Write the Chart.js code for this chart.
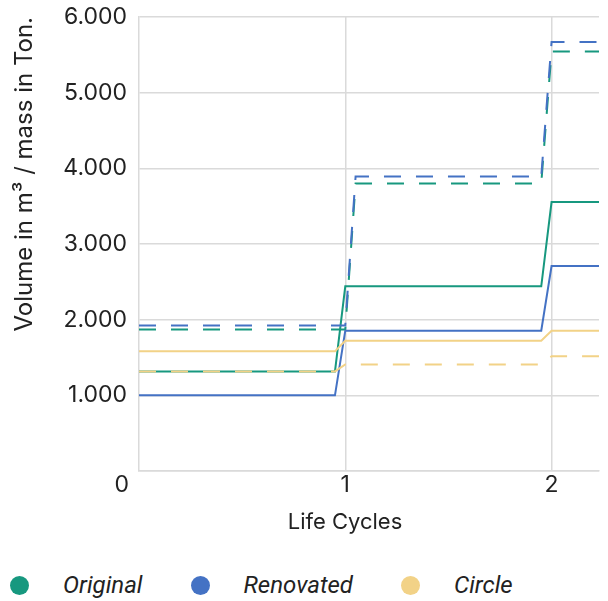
<!DOCTYPE html>
<html>
<head>
<meta charset="utf-8">
<script src="https://cdn.jsdelivr.net/npm/chart.js@4.4.1/dist/chart.umd.min.js"></script>
<style>
  body { margin: 0; background: #fff; }
  #wrap { position: relative; width: 608px; height: 550px; }
  #legend { display: flex; align-items: center; height: 26px; margin-top: 22px; font: italic 24px Roboto, sans-serif; color: #222; }
  #legend .dot { width: 19px; height: 19px; border-radius: 50%; }
  #legend .txt { margin-left: 34px; margin-right: 48px; }
</style>
</head>
<body>
<div id="wrap"><canvas id="chart"></canvas></div>
<div id="legend"></div>
<script>
// x positions of the step corners (life cycles)
const xSolid  = [0, 0.95, 1, 1.95, 2, 2.23];
const xDashed = [0, 1, 1.05, 1.95, 2, 2.23];
const xTicks = [1, 2];

// volume in m3 (solid) and mass in ton (dashed)
const originalSolid   = [1316, 1316, 2440, 2440, 3555, 3555];
const originalDashed  = [1871, 1871, 3800, 3800, 5545, 5545];
const renovatedSolid  = [1000, 1000, 1854, 1854, 2709, 2709];
const renovatedDashed = [1924, 1924, 3893, 3893, 5669, 5669];
const circleSolid     = [1581, 1581, 1722, 1722, 1854, 1854];
const circleDashed    = [1316, 1316, 1409, 1409, 1515, 1515];

const seriesNames  = ['Original', 'Renovated', 'Circle'];
const seriesColors = ['#17987f', '#4472c4', '#f2d287'];

const FONT = 'Inter';
const textColor = '#222';
const gridColor = '#dadada';

function pts(xs, ys) {
  return xs.map((x, i) => ({ x: x, y: ys[i] }));
}

function fmt(v) {
  if (v === 0) return '';
  return String(v).replace(/\B(?=(\d{3})+(?!\d))/g, '.');
}

function line(name, color, xs, ys, dashed) {
  return {
    label: name + (dashed ? ' (Ton.)' : ' (m³)'),
    data: pts(xs, ys),
    borderColor: color,
    backgroundColor: color,
    borderWidth: 2,
    borderDash: dashed ? [17, 15] : [],
    pointRadius: 0,
    tension: 0
  };
}

// first dataset ends up on top
const datasets = [
  line('Circle', seriesColors[2], xSolid, circleDashed, true),
  line('Circle', seriesColors[2], xSolid, circleSolid, false),
  line('Renovated', seriesColors[1], xDashed, renovatedDashed, true),
  line('Renovated', seriesColors[1], xSolid, renovatedSolid, false),
  line('Original', seriesColors[0], xDashed, originalDashed, true),
  line('Original', seriesColors[0], xSolid, originalSolid, false)
];

// the lone "0" sits below the corner
const zeroLabel = {
  id: 'zeroLabel',
  afterDraw(chart) {
    const ctx = chart.ctx;
    ctx.save();
    ctx.font = '23px ' + FONT;
    ctx.fillStyle = textColor;
    ctx.textAlign = 'right';
    ctx.textBaseline = 'middle';
    ctx.fillText('0', chart.scales.y.right - 10, chart.scales.x.top + 14);
    ctx.restore();
  }
};

const ctx = document.getElementById('chart');
new Chart(ctx, {
  type: 'line',
  data: { datasets: datasets },
  options: {
    responsive: true,
    maintainAspectRatio: false,
    animation: false,
    layout: { padding: { top: 17, right: 9, left: 0, bottom: 0 } },
    scales: {
      x: {
        type: 'linear',
        min: 0,
        max: 2.23,
        afterBuildTicks: s => { s.ticks = xTicks.map(v => ({ value: v })); },
        afterFit: s => { s.height = 79; },
        grid: { color: gridColor, lineWidth: 1.5, drawTicks: false },
        border: { color: gridColor, width: 1.5 },
        ticks: { padding: 0, color: textColor, font: { family: FONT, size: 23 } },
        // trailing spaces pull the title towards the 0–2 range
        title: { display: true, text: 'Life Cycles\u2003\u2003\u2009', color: textColor, font: { family: FONT, size: 22 }, padding: { top: 0, bottom: 14 } }
      },
      y: {
        min: 0,
        max: 6000,
        afterFit: s => { s.width = 139; s.paddingTop = 0; s.paddingBottom = 0; },
        grid: { color: gridColor, lineWidth: 1.5, drawTicks: false },
        border: { color: gridColor, width: 1.5 },
        ticks: { stepSize: 1000, padding: 12, color: textColor, font: { family: FONT, size: 23 }, callback: v => fmt(v) },
        title: { display: true, text: 'Volume in m³ / mass in Ton.', align: 'end', color: textColor, font: { family: FONT, size: 24 }, padding: { top: 10, bottom: 0 } }
      }
    },
    plugins: {
      legend: { display: false },
      tooltip: { enabled: false }
    }
  },
  plugins: [zeroLabel]
});

// legend below the chart
const legend = document.getElementById('legend');
seriesNames.forEach((name, i) => {
  const dot = document.createElement('span');
  dot.className = 'dot';
  dot.style.background = seriesColors[i];
  if (i === 0) dot.style.marginLeft = '10px';
  const txt = document.createElement('span');
  txt.className = 'txt';
  txt.textContent = name;
  legend.appendChild(dot);
  legend.appendChild(txt);
});
</script>
</body>
</html>
